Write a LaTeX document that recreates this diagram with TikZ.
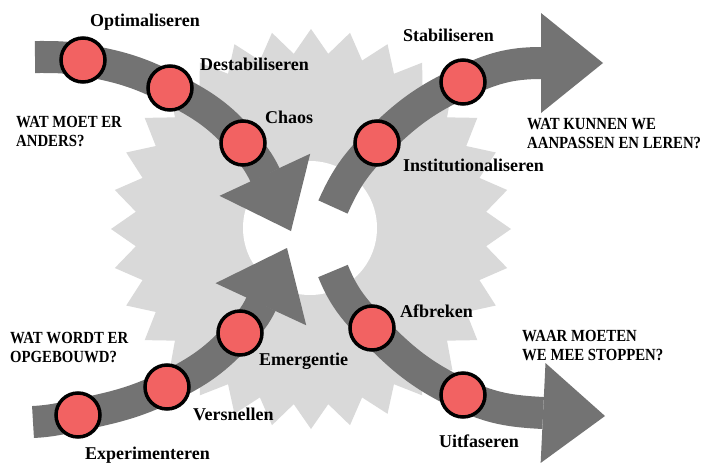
\documentclass[tikz,border=0pt]{standalone}
\usepackage{fontspec}
\setmainfont{Liberation Serif}
\newfontfamily\askfont{Liberation Serif}[FakeStretch=0.87]
\usetikzlibrary{arrows.meta,backgrounds}

\definecolor{geargray}{RGB}{217,217,217}
\definecolor{bandgray}{RGB}{115,115,115}
\definecolor{dotred}{RGB}{242,98,98}

\begin{document}
\begin{tikzpicture}[
    x=1pt, y=-1pt,
    band/.style={draw=bandgray, line width=32pt,
        -{Triangle[width=100pt, length=62pt, line width=0pt]}},
    dot/.style={circle, draw=black, fill=dotred, line width=3.5pt,
        minimum size=44pt, inner sep=0pt},
    stage/.style={anchor=base west, inner sep=0pt,
        font=\fontsize{18}{20}\selectfont\bfseries},
    ask/.style={anchor=north west, inner sep=0pt, align=left,
        font=\askfont\fontsize{17}{19.5}\selectfont\bfseries}
]

\useasboundingbox (0,0) rectangle (710,464);

% Gear centre and radii (px, y downwards)
\def\gx{311}
\def\gy{229}
\def\gouter{200}
\def\ginner{176}

% Band ends: tail and tip of each arrow
\coordinate (tl0)   at (35,57);
\coordinate (tlb)   at (265,175);
\coordinate (tltip) at (291,231);

\coordinate (tr0)   at (333,207);
\coordinate (trb)   at (541,63);
\coordinate (trtip) at (603,63);

\coordinate (bl0)   at (33,422);
\coordinate (blb)   at (261,304);
\coordinate (bltip) at (287,248);

\coordinate (br0)   at (333,271);
\coordinate (brb)   at (543,413);
\coordinate (brtip) at (605,416);

% Stages on the arrows
\node[dot] (opt)   at (83,60)   {};
\node[dot] (dest)  at (170,88)  {};
\node[dot] (chaos) at (243,143) {};

\node[dot] (inst)  at (377,143) {};
\node[dot] (stab)  at (463,82)  {};

\node[dot] (expe)  at (78,415)  {};
\node[dot] (vers)  at (167,387) {};
\node[dot] (emer)  at (240,333) {};

\node[dot] (afb)   at (372,328) {};
\node[dot] (uit)   at (463,395) {};

% Stage labels
\node[stage] at (90,26)   {Optimaliseren};
\node[stage] at (200,70)  {Destabiliseren};
\node[stage] at (265,123) {Chaos};
\node[stage] at (403,41)  {Stabiliseren};
\node[stage] at (403,171) {Institutionaliseren};
\node[stage] at (85,459)  {Experimenteren};
\node[stage] at (193,420) {Versnellen};
\node[stage] at (259,365) {Emergentie};
\node[stage] at (400,317) {Afbreken};
\node[stage] at (439,447) {Uitfaseren};

% Questions
\node[ask] at (16,116)  {WAT MOET ER\\ANDERS?};
\node[ask] at (527,118) {WAT KUNNEN WE\\AANPASSEN EN LEREN?};
\node[ask] at (10,332)  {WAT WORDT ER\\OPGEBOUWD?};
\node[ask] at (522,330) {WAAR MOETEN\\WE MEE STOPPEN?};

\begin{scope}[on background layer]
  \fill[white] (0,0) rectangle (710,464);

  % gear with hole
  \fill[geargray, shift={(\gx,\gy)}] (90:\gouter)
    \foreach \k in {1,...,32} {
      -- ({90+\k*11.25-5.625}:\ginner) -- ({90+\k*11.25}:\gouter)
    } -- cycle;
  \fill[white] (310,228) circle[radius=67];

  % arrows
  \draw[band] (tl0) to[out=0,in=170] (opt.center)
    to[out=-10,in=153] (dest.center)
    to[out=-27,in=130] (chaos.center)
    to[out=-50,in=115] (tlb) -- (tltip);

  \draw[band] (tr0) to[out=66,in=-135] (inst.center)
    to[out=45,in=-155] (stab.center)
    to[out=25,in=180] (trb) -- (trtip);

  \draw[band] (bl0) to[out=3,in=-168] (expe.center)
    to[out=12,in=-154] (vers.center)
    to[out=26,in=-132] (emer.center)
    to[out=48,in=-115] (blb) -- (bltip);

  \draw[band] (br0) to[out=-68,in=134] (afb.center)
    to[out=-46,in=155] (uit.center)
    to[out=-25,in=177] (brb) -- (brtip);
\end{scope}

\end{tikzpicture}
\end{document}
